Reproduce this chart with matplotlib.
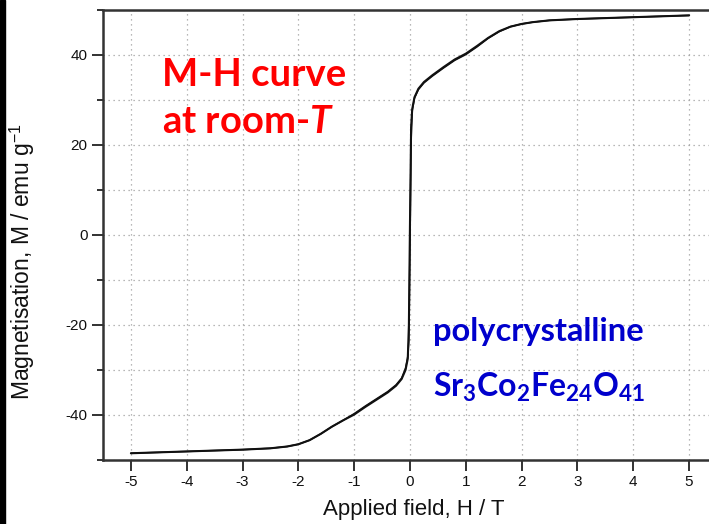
import matplotlib
matplotlib.use("Agg")
import matplotlib.pyplot as plt
from matplotlib.ticker import MultipleLocator
from matplotlib.patches import Rectangle

plt.rcParams["mathtext.fontset"] = "custom"
plt.rcParams["mathtext.rm"] = "Liberation Sans"
plt.rcParams["mathtext.bf"] = "Lato:bold"
plt.rcParams["mathtext.it"] = "Lato:italic:bold"

# Field sweep (T) and magnetisation (emu/g), descending and ascending branches
field = [-5.0, -4.5, -4.0, -3.5, -3.0, -2.5, -2.2, -2.0, -1.8, -1.6, -1.4,
         -1.2, -1.0, -0.8, -0.6, -0.4, -0.25, -0.15, -0.08, -0.04, -0.02,
         0.0, 0.02, 0.04, 0.08, 0.15, 0.25, 0.4, 0.6, 0.8, 1.0, 1.2, 1.4,
         1.6, 1.8, 2.0, 2.2, 2.5, 3.0, 3.5, 4.0, 4.5, 5.0]
m_down = [-48.5, -48.3, -48.1, -47.9, -47.7, -47.4, -47.0, -46.5, -45.6,
          -44.2, -42.6, -41.2, -39.9, -38.2, -36.6, -35.0, -33.5, -32.0,
          -30.0, -27.5, -20.0, 3.0, 24.0, 28.0, 30.6, 32.5, 34.0, 35.5,
          37.3, 39.0, 40.3, 42.0, 43.8, 45.3, 46.3, 46.9, 47.3, 47.7, 48.0,
          48.2, 48.4, 48.6, 48.8]
m_up = [-48.5, -48.3, -48.1, -47.9, -47.7, -47.4, -47.0, -46.5, -45.6,
        -44.2, -42.6, -41.2, -39.7, -38.0, -36.4, -34.8, -33.3, -31.8,
        -29.6, -27.0, -23.5, -2.0, 21.0, 27.6, 30.4, 32.3, 33.8, 35.3,
        37.1, 38.8, 40.1, 41.8, 43.7, 45.2, 46.3, 46.9, 47.3, 47.7, 48.0,
        48.2, 48.4, 48.6, 48.8]

x_ticks = [-5, -4, -3, -2, -1, 0, 1, 2, 3, 4, 5]
y_ticks = [-40, -20, 0, 20, 40]

fig = plt.figure(figsize=(7.09, 5.24), dpi=100)
ax = fig.add_axes([103 / 709, 1 - 460 / 524, 614 / 709, 450 / 524])

ax.plot(field, m_down, color="#111111", lw=1.5, solid_capstyle="round")
ax.plot(field, m_up, color="#111111", lw=1.1, solid_capstyle="round")

ax.set_xlim(-5.5, 5.5)
ax.set_ylim(-50, 50)
ax.set_xticks(x_ticks)
ax.set_yticks(y_ticks)
ax.set_xticklabels([str(v) for v in x_ticks])
ax.set_yticklabels([str(v) for v in y_ticks])
ax.yaxis.set_minor_locator(MultipleLocator(10))

ax.grid(True, which="both", color="#a0a0a0", linestyle=(0, (1, 3)), lw=0.9)
ax.tick_params(which="major", direction="out", length=8, width=1.3,
               color="#222222", labelsize=11, labelcolor="#111111", pad=3)
ax.tick_params(axis="y", which="minor", direction="out", length=4,
               width=1.3, color="#222222")
for side in ("left", "bottom", "top"):
    ax.spines[side].set_color("#333333")
    ax.spines[side].set_linewidth(1.8)
ax.spines["right"].set_visible(False)

for lab in ax.get_xticklabels() + ax.get_yticklabels():
    lab.set_fontfamily("Liberation Sans")

fig.text(414 / 709, 1 - 510 / 524, "Applied field, H / T", fontsize=16,
         family="Liberation Sans", color="#111111", ha="center", va="center")
fig.text(22 / 709, 1 - 262 / 524, "Magnetisation, M / emu g$^{-1}$",
         fontsize=16.5, family="Liberation Sans", color="#111111",
         rotation=90, ha="center", va="center")

# Annotations
ax.text(-4.44, 33.0, "M-H curve", color="#ff0000", fontsize=27.5,
        fontweight="bold", family="Lato", va="baseline")
ax.text(-4.44, 22.6, "at room-$T$", color="#ff0000", fontsize=27.5,
        fontweight="bold", family="Lato", va="baseline")

ax.text(0.41, -23.6, "polycrystalline", color="#0000cc", fontsize=23.5,
        fontweight="bold", family="Lato", va="baseline")
ax.text(0.41, -36.0, r"$\mathbf{Sr_3Co_2Fe_{24}O_{41}}$", color="#0000cc",
        fontsize=23, va="baseline")

# Black frame bar on the left edge
fig.patches.append(Rectangle((0, 0), 5 / 709, 1, transform=fig.transFigure,
                             color="black", zorder=10))

fig.savefig("out.png", dpi=100)
